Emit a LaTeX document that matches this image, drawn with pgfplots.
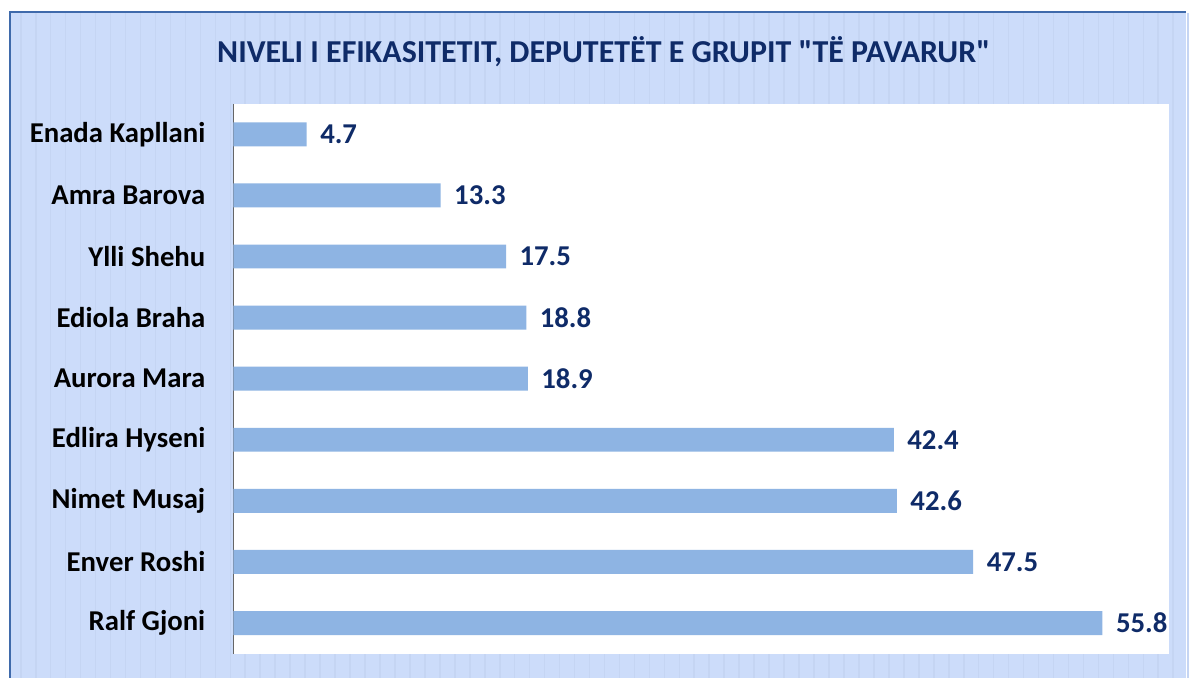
\documentclass[border=0pt]{standalone}
\usepackage{pgfplots}
\pgfplotsset{compat=1.18}
\usepackage{fontspec}
\setmainfont{Carlito}[Ligatures=TeXOff]
\definecolor{bgblue}{HTML}{CCDCFA}
\definecolor{stripe}{HTML}{C5D5F3}
\definecolor{frame}{HTML}{3F6AAB}
\definecolor{navy}{HTML}{0F2B68}
\definecolor{barblue}{HTML}{8EB4E3}
\pgfplotstableread{
idx value
0 4.7
1 13.3
2 17.5
3 18.8
4 18.9
5 42.4
6 42.6
7 47.5
8 55.8
}\datatable
\begin{document}
\begin{tikzpicture}[x=0.75pt,y=0.75pt]
\fill[white] (0,0) rectangle (1189,679);
\fill[bgblue] (10,0) rectangle (1189,667);
\foreach \i in {0,...,78} {
  \fill[stripe] ({20+15*\i},0) rectangle ({21.6+15*\i},666);
}
\draw[frame, line width=1.5pt] (10,0) -- (10,667) -- (1189,667);
\node[font=\bfseries\fontsize{24}{28}\selectfont, text=navy] at (605,627) {NIVELI I EFIKASITETIT, DEPUTETËT E GRUPIT "TË PAVARUR"};
\begin{axis}[
  at={(234pt*0.75,24pt*0.75)}, anchor=south west,
  scale only axis,
  width=703.5pt, height=413.25pt,
  xbar, bar width=18pt,
  xmin=0, xmax=60.1,
  ymin=-0.5, ymax=8.5,
  y dir=reverse,
  axis x line=none,
  axis y line*=left,
  y axis line style={draw=gray!80!black, line width=1.2pt, -},
  axis background/.style={fill=white},
  ytick=data,
  yticklabels={Enada Kapllani, Amra Barova, Ylli Shehu, Ediola Braha, Aurora Mara, Edlira Hyseni, Nimet Musaj, Enver Roshi, Ralf Gjoni},
  major tick length=0pt,
  yticklabel style={font=\bfseries\fontsize{21.6}{26}\selectfont, text=black, anchor=east, inner sep=0pt, xshift=-21pt},
  /pgf/number format/assume math mode=true,
  nodes near coords={\pgfmathprintnumber[fixed,fixed zerofill,precision=1,assume math mode=true]{\pgfplotspointmeta}},
  nodes near coords style={font=\bfseries\fontsize{21.6}{26}\selectfont, text=navy, anchor=west, inner sep=0pt, xshift=10pt},
  clip=false,
]
\addplot[fill=barblue, draw=none] table[x=value, y=idx] {\datatable};
\end{axis}
\end{tikzpicture}
\end{document}
